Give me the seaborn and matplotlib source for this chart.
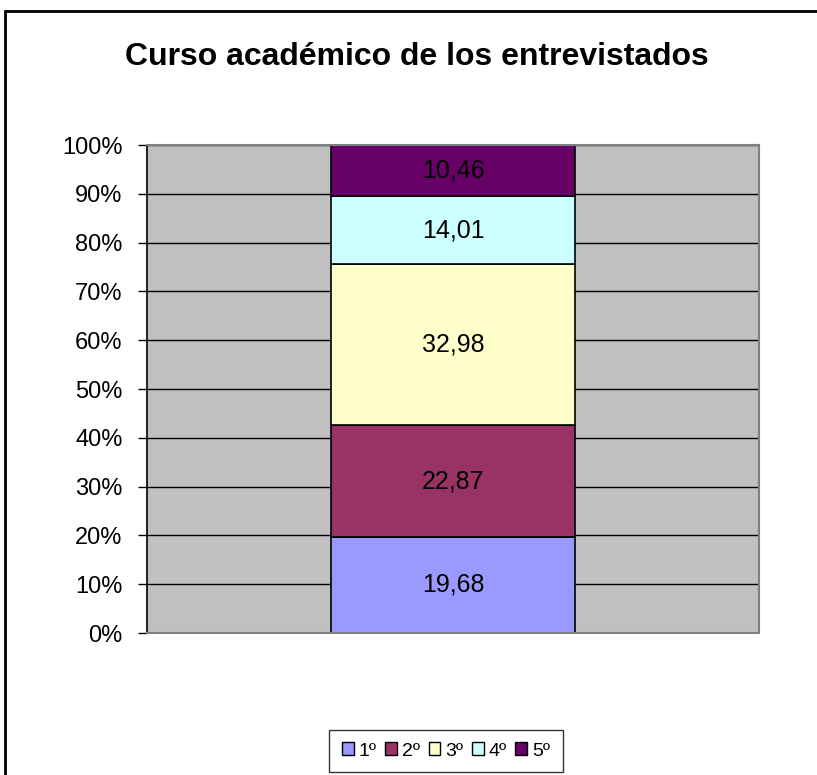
import matplotlib
matplotlib.use("Agg")
import matplotlib.pyplot as plt
import matplotlib.patches as mpatches
from matplotlib.ticker import PercentFormatter
import seaborn as sns

# Data
courses = ["1º", "2º", "3º", "4º", "5º"]
shares = [19.68, 22.87, 32.98, 14.01, 10.46]
labels = ["19,68", "22,87", "32,98", "14,01", "10,46"]
colors = ["#9999FF", "#993366", "#FFFFCC", "#CCFFFF", "#660066"]

sns.set_theme(style="white")
plt.rcParams["font.family"] = ["Liberation Sans", "DejaVu Sans"]
plt.rcParams["text.color"] = "black"
plt.rcParams["ytick.color"] = "black"
plt.rcParams["ytick.labelcolor"] = "black"

fig = plt.figure(figsize=(8.17, 7.75), dpi=100)
ax = fig.add_axes([147 / 817, 142 / 775, 612 / 817, 488 / 775])
ax.set_facecolor("#C0C0C0")

bottom = 0.0
for course, val, lab, col in zip(courses, shares, labels, colors):
    sns.barplot(x=[""], y=[val], bottom=bottom, color=col, width=0.4,
                edgecolor="black", linewidth=1.2, ax=ax, saturation=1)
    ax.text(0, bottom + val / 2, lab, ha="center", va="center",
            fontsize=18, color="black")
    bottom += val

if ax.get_legend() is not None:
    ax.get_legend().remove()

ax.set_xlim(-0.5, 0.5)
ax.set_ylim(0, 100)
ax.set_yticks(range(0, 101, 10))
ax.yaxis.set_major_formatter(PercentFormatter(decimals=0))
ax.tick_params(axis="y", labelsize=17, length=6.5, width=1, color="black",
               labelcolor="black", left=True, pad=11)
ax.tick_params(axis="x", bottom=False, labelbottom=False)
ax.set_xlabel("")
ax.set_ylabel("")
ax.grid(axis="y", color="black", linewidth=1)
ax.set_axisbelow(True)
for side in ["top", "right", "bottom"]:
    ax.spines[side].set_color("#808080")
    ax.spines[side].set_linewidth(1.5)
ax.spines["left"].set_color("black")
ax.spines["left"].set_linewidth(1.2)

fig.text(0.51, 1 - 57 / 775, "Curso académico de los entrevistados",
         ha="center", va="center", fontsize=23, fontweight="bold",
         color="black")

handles = [mpatches.Patch(facecolor=c, edgecolor="black", linewidth=1, label=n)
           for n, c in zip(courses, colors)]
leg = fig.legend(handles=handles, loc="center", ncol=5,
                 bbox_to_anchor=(446 / 817, 1 - 751 / 775), fontsize=14,
                 frameon=True, fancybox=False, edgecolor="black",
                 handlelength=0.6, handleheight=0.6, handletextpad=0.25,
                 columnspacing=0.45, borderpad=0.65, borderaxespad=0)
leg.get_frame().set_linewidth(1)
for t in leg.get_texts():
    t.set_color("black")

# outer chart frame (cut off at right and bottom)
fig.patches.append(mpatches.Rectangle((5 / 817, -0.1), 1.1, 1.1 - 11 / 775,
                                      transform=fig.transFigure, fill=False,
                                      edgecolor="black", linewidth=2))

fig.savefig("out.png", dpi=100)
